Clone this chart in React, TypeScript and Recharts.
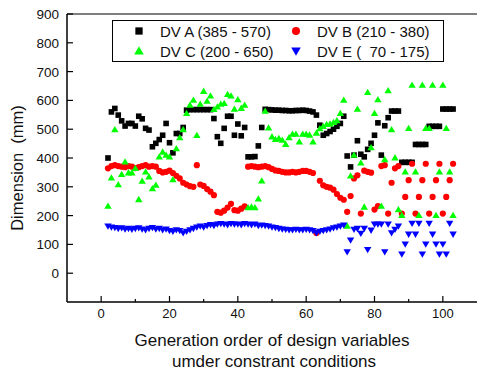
import React from 'react';
import { ScatterChart, Scatter, XAxis, YAxis, ReferenceLine } from 'recharts';

// generation order (x) shared by all four design variables
const order = [
  2, 3, 4, 5, 6, 7, 8, 9, 10, 11,
  12, 13, 14, 15, 16, 17, 18, 19, 20, 21,
  22, 23, 24, 25, 26, 27, 28, 29, 30, 31,
  32, 33, 34, 35, 36, 37, 38, 39, 40, 41,
  42, 43, 44, 45, 46, 47, 48, 49, 50, 51,
  52, 53, 54, 55, 56, 57, 58, 59, 60, 61,
  62, 63, 64, 65, 66, 67, 68, 69, 70, 71,
  72, 73, 74, 75, 76, 77, 78, 79, 80, 81,
  82, 83, 84, 85, 86, 87, 88, 89, 90, 91,
  92, 93, 94, 95, 96, 97, 98, 99, 100, 101,
  102, 103,
];

const dvA = [
  400, 560, 572, 549, 529, 511, 520, 520, 511, 545,
  536, 503, 497, 439, 451, 464, 479, 520, 453, 418,
  485, 485, 506, 566, 568, 568, 568, 568, 568, 568,
  568, 537, 474, 451, 503, 545, 545, 479, 518, 477,
  506, 404, 404, 405, 442, 506, 569, 568, 567, 566,
  566, 565, 565, 564, 564, 565, 565, 566, 565, 563,
  560, 549, 514, 479, 485, 492, 500, 510, 520, 545,
  407, 369, 410, 460, 413, 404, 430, 451, 479, 522,
  410, 512, 540, 563, 563, 563, 385, 385, 385, 385,
  447, 447, 447, 447, 510, 510, 510, 510, 570, 570,
  570, 570,
];

const dvB = [
  364, 372, 375, 372, 370, 368, 372, 370, 365, 368,
  372, 375, 370, 372, 370, 355, 350, 352, 356, 348,
  338, 329, 314, 308, 302, 300, 375, 308, 303, 292,
  283, 271, 213, 210, 217, 228, 241, 219, 217, 224,
  232, 370, 372, 370, 368, 370, 372, 368, 362, 357,
  355, 352, 350, 350, 352, 350, 352, 355, 355, 352,
  348, 140, 321, 305, 300, 297, 290, 275, 262, 255,
  213, 268, 329, 340, 207, 356, 352, 349, 221, 233,
  372, 375, 207, 314, 364, 372, 207, 265, 323, 380,
  207, 265, 323, 380, 207, 265, 323, 380, 207, 265,
  323, 380,
];

const dvC = [
  233, 331, 499, 308, 343, 387, 349, 349, 364, 256,
  320, 352, 335, 294, 306, 404, 421, 410, 404, 325,
  433, 471, 499, 555, 584, 601, 479, 587, 632, 598,
  616, 569, 578, 587, 590, 621, 616, 570, 603, 573,
  584, 228, 230, 228, 258, 321, 563, 505, 474, 465,
  468, 462, 448, 471, 483, 483, 456, 483, 483, 480,
  456, 487, 502, 510, 517, 519, 524, 530, 555, 601,
  164, 338, 410, 570, 383, 230, 628, 436, 555, 603,
  233, 395, 634, 499, 401, 221, 201, 352, 503, 653,
  352, 201, 653, 503, 503, 653, 201, 352, 653, 503,
  352, 201,
];

const dvE = [
  163, 160, 158, 155, 157, 153, 155, 152, 155, 157,
  153, 150, 155, 158, 153, 155, 150, 153, 148, 145,
  150, 148, 140, 145, 150, 155, 160, 163, 160, 165,
  168, 165, 170, 172, 170, 168, 172, 170, 170, 168,
  172, 170, 168, 170, 165, 167, 165, 163, 160, 158,
  155, 153, 152, 150, 150, 152, 150, 150, 152, 150,
  148, 140, 145, 148, 150, 153, 157, 160, 163, 167,
  74, 115, 152, 155, 138, 155, 82, 149, 170, 170,
  170, 74, 170, 140, 152, 163, 66, 101, 135, 173,
  135, 173, 66, 101, 173, 135, 101, 66, 101, 66,
  173, 135,
];

const xTicks = [0, 10, 20, 30, 40, 50, 60, 70, 80, 90, 100];
const yTicks = [-50, 0, 50, 100, 150, 200, 250, 300, 350, 400, 450, 500, 550, 600, 650, 700, 750, 800, 850, 900];

const FONT = '"Liberation Sans", Arial, sans-serif';

const toPoints = (ys: number[]) => order.map((x, i) => ({ x, y: ys[i] }));

// marker shapes, s = scale factor (legend uses a larger one)
const Square = (p: any) => {
  const h = 2.8 * (p.s || 1);
  return <rect x={p.cx - h} y={p.cy - h} width={2 * h} height={2 * h} fill="#000" />;
};
const Dot = (p: any) => <circle cx={p.cx} cy={p.cy} r={3.1 * (p.s || 1)} fill="#ff0000" />;
const Up = (p: any) => {
  const k = p.s || 1;
  return (
    <path
      d={`M${p.cx},${p.cy - 3.6 * k}L${p.cx + 3.7 * k},${p.cy + 2.7 * k}L${p.cx - 3.7 * k},${p.cy + 2.7 * k}Z`}
      fill="#00ff00"
    />
  );
};
const Down = (p: any) => {
  const k = p.s || 1;
  return (
    <path
      d={`M${p.cx},${p.cy + 3.6 * k}L${p.cx + 3.7 * k},${p.cy - 2.7 * k}L${p.cx - 3.7 * k},${p.cy - 2.7 * k}Z`}
      fill="#0000ff"
    />
  );
};

const XTick = (p: any) => {
  const v = p.payload.value;
  const major = v % 20 === 0;
  return (
    <g>
      <line x1={p.x} x2={p.x} y1={p.y} y2={p.y - (major ? 6 : 3)} stroke="#000" strokeWidth={1.2} />
      {major && (
        <text x={p.x} y={p.y + 16} textAnchor="middle" fontSize={13} fontFamily={FONT} fill="#111">
          {v}
        </text>
      )}
    </g>
  );
};

const YTick = (p: any) => {
  const v = p.payload.value;
  const major = v % 100 === 0;
  return (
    <g>
      <line x1={p.x} x2={p.x + (major ? 6 : 3)} y1={p.y} y2={p.y} stroke="#000" strokeWidth={1.2} />
      {major && (
        <text x={p.x - 8} y={p.y + 5} textAnchor="end" fontSize={13.5} fontFamily={FONT} fill="#111">
          {v}
        </text>
      )}
    </g>
  );
};

const legendItems = [
  { name: 'DV A (385 - 570)', shape: 'square' },
  { name: 'DV B (210 - 380)', shape: 'dot' },
  { name: 'DV C (200 - 650)', shape: 'up' },
  { name: 'DV E (  70 - 175)', shape: 'down' },
];

const LegendMark = ({ shape }: { shape: string }) => (
  <svg width={12} height={12} style={{ display: 'block' }}>
    {shape === 'square' && <Square cx={6} cy={6} s={1.3} />}
    {shape === 'dot' && <Dot cx={6} cy={6} s={1.3} />}
    {shape === 'up' && <Up cx={6} cy={6} s={1.3} />}
    {shape === 'down' && <Down cx={6} cy={6} s={1.3} />}
  </svg>
);

export default function App() {
  return (
    <div style={{ position: 'absolute', left: 0, top: 0, width: 478, height: 374, background: '#fff' }}>
      <ScatterChart width={478} height={374} margin={{ top: 14, right: 1, bottom: 0, left: 0 }}>
        <XAxis
          type="number"
          dataKey="x"
          domain={[-10, 110]}
          ticks={xTicks}
          allowDataOverflow
          height={72}
          tickSize={0}
          tickMargin={0}
          tick={<XTick />}
          axisLine={{ stroke: '#000', strokeWidth: 1.5 }}
          label={{
            content: () => (
              <text textAnchor="middle" fontSize={17} fontFamily={FONT} fill="#111">
                <tspan x={272} y={346}>Generation order of design variables</tspan>
                <tspan x={274} y={367}>umder constrant conditions</tspan>
              </text>
            ),
          }}
        />
        <YAxis
          type="number"
          dataKey="y"
          domain={[-100, 900]}
          ticks={yTicks}
          allowDataOverflow
          width={67}
          tickSize={0}
          tickMargin={0}
          tick={<YTick />}
          axisLine={{ stroke: '#000', strokeWidth: 1.5 }}
          label={{
            content: () => (
              <text
                x={23}
                y={168}
                transform="rotate(-90 23 168)"
                textAnchor="middle"
                fontSize={16.5}
                fontFamily={FONT}
                fill="#111"
                style={{ whiteSpace: 'pre' }}
              >
                {'Dimension  (mm)'}
              </text>
            ),
          }}
        />
        <ReferenceLine y={900} stroke="#555" strokeWidth={1.5} />
        <Scatter name="DV A (385 - 570)" data={toPoints(dvA)} shape={Square} isAnimationActive={false} />
        <Scatter name="DV B (210 - 380)" data={toPoints(dvB)} shape={Dot} isAnimationActive={false} />
        <Scatter name="DV C (200 - 650)" data={toPoints(dvC)} shape={Up} isAnimationActive={false} />
        <Scatter name="DV E (  70 - 175)" data={toPoints(dvE)} shape={Down} isAnimationActive={false} />
      </ScatterChart>
      <div
        style={{
          position: 'absolute',
          left: 112,
          top: 20,
          width: 330,
          height: 40,
          border: '1px solid #000',
          background: '#fff',
          fontFamily: FONT,
          fontSize: 15,
          color: '#111',
          display: 'grid',
          gridTemplateColumns: '157px 173px',
          alignItems: 'center',
        }}
      >
        {legendItems.map((it) => (
          <div key={it.name} style={{ display: 'flex', alignItems: 'center', height: 17, whiteSpace: 'pre' }}>
            <div style={{ marginLeft: 20, marginRight: 15 }}>
              <LegendMark shape={it.shape} />
            </div>
            <span>{it.name}</span>
          </div>
        ))}
      </div>
    </div>
  );
}
